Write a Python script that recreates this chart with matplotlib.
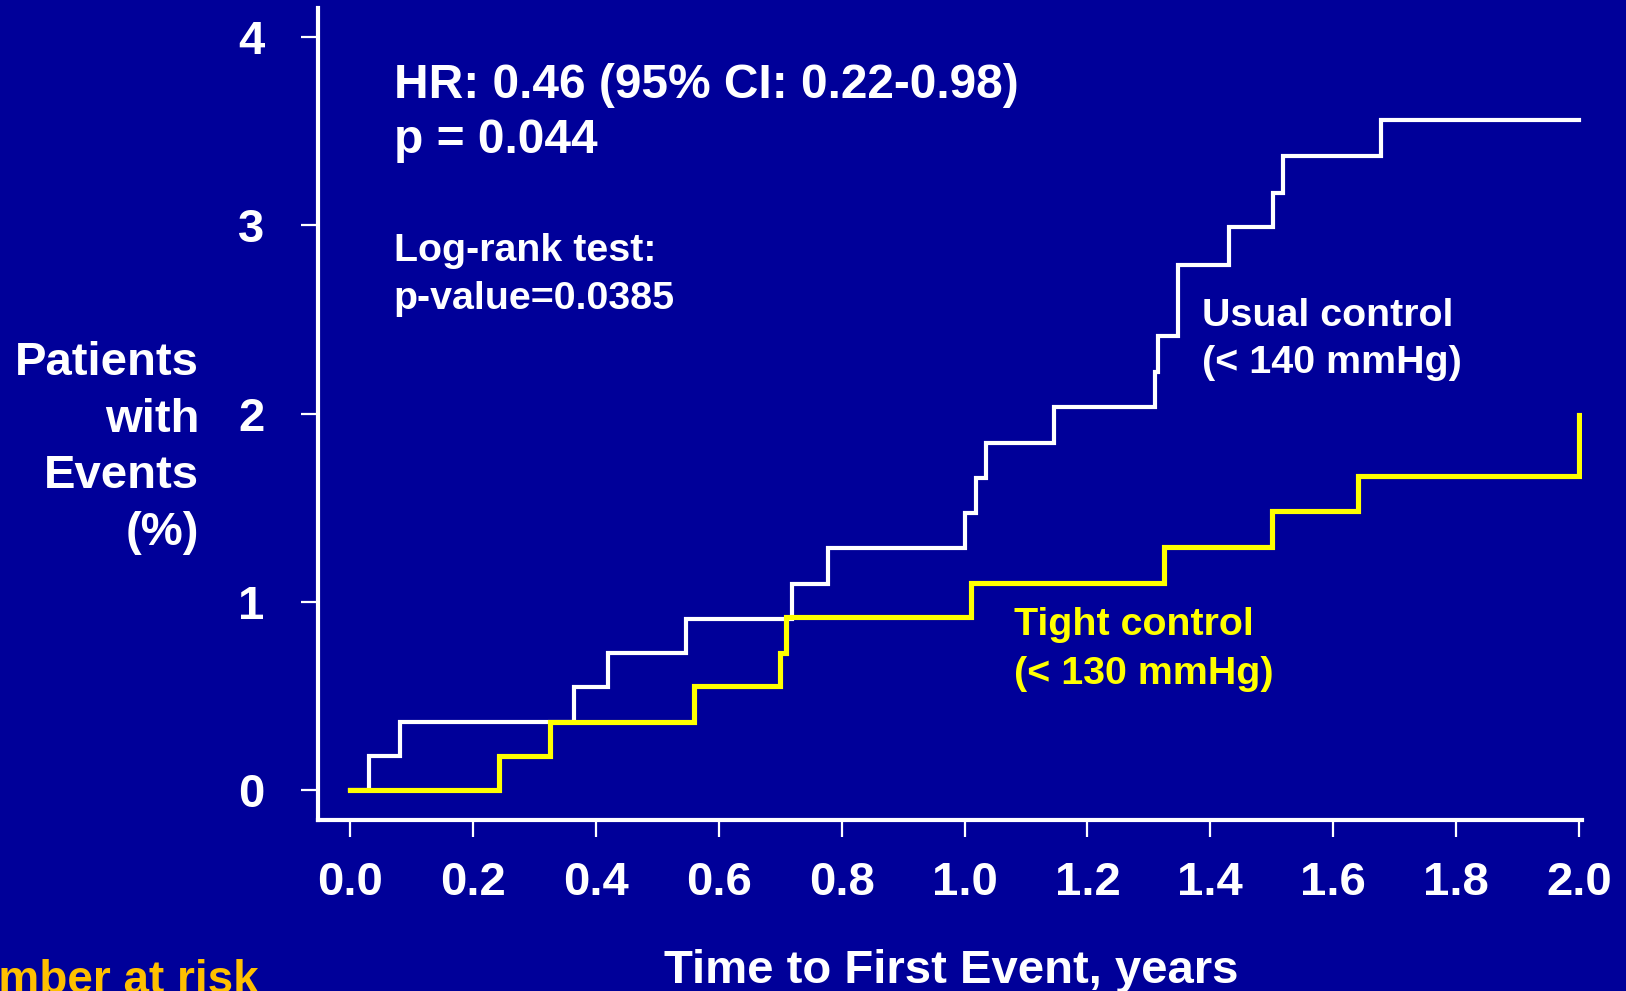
import matplotlib
matplotlib.use("Agg")
import matplotlib.pyplot as plt

# step data: event times (years) and cumulative % with events
usual_t = [0.0, 0.03, 0.081, 0.365, 0.42, 0.547, 0.719, 0.778, 1.001, 1.018, 1.035,
           1.146, 1.31, 1.315, 1.347, 1.43, 1.502, 1.519, 1.678, 2.0]
usual_y = [0.0, 0.18, 0.36, 0.545, 0.727, 0.909, 1.096, 1.284, 1.471, 1.658, 1.846,
           2.033, 2.22, 2.41, 2.79, 2.99, 3.17, 3.37, 3.56, 3.56]

tight_t = [0.0, 0.243, 0.326, 0.559, 0.70, 0.71, 1.011, 1.325, 1.50, 1.64, 2.0, 2.0]
tight_y = [0.0, 0.18, 0.36, 0.55, 0.73, 0.92, 1.10, 1.29, 1.48, 1.67, 1.67, 1.99]

x_ticks = [0.0, 0.2, 0.4, 0.6, 0.8, 1.0, 1.2, 1.4, 1.6, 1.8, 2.0]
y_ticks = [0, 1, 2, 3, 4]

bg = "#000099"
yellow = "#FFFF00"
orange = "#FFC000"

plt.rcParams['font.family'] = ['Liberation Sans', 'DejaVu Sans']
plt.rcParams['font.weight'] = 'bold'

fig = plt.figure(figsize=(16.26, 9.91), dpi=100, facecolor=bg)
ax = fig.add_axes([0.1956, 0.1726, 0.973 - 0.1956, 0.9916 - 0.1726])
ax.set_facecolor(bg)

ax.step(usual_t, usual_y, where='post', color='white', lw=3.0, solid_joinstyle='miter')
ax.step(tight_t, tight_y, where='post', color=yellow, lw=3.7, solid_joinstyle='miter')

ax.set_xlim(-0.0523, 2.005)
ax.set_ylim(-0.16, 4.154)
for s in ['top', 'right']:
    ax.spines[s].set_visible(False)
for s in ['left', 'bottom']:
    ax.spines[s].set_color('white')
    ax.spines[s].set_linewidth(3.0)

ax.set_xticks(x_ticks)
ax.set_xticklabels([f"{v:.1f}" for v in x_ticks])
ax.set_yticks(y_ticks)
ax.tick_params(axis='both', colors='white', length=12.5, width=1.6, labelsize=34)
ax.tick_params(axis='y', pad=26)
ax.tick_params(axis='x', pad=17)
for lab in ax.get_xticklabels() + ax.get_yticklabels():
    lab.set_fontweight('bold')

# annotations
ax.text(0.071, 3.68, "HR: 0.46 (95% CI: 0.22-0.98)", color='white', fontsize=34.5,
        fontweight='bold', va='baseline')
ax.text(0.071, 3.383, "p = 0.044", color='white', fontsize=34.5, fontweight='bold', va='baseline')
ax.text(0.071, 2.81, "Log-rank test:", color='white', fontsize=28.4, fontweight='bold', va='baseline')
ax.text(0.071, 2.556, "p-value=0.0385", color='white', fontsize=28.4, fontweight='bold', va='baseline')

ax.text(1.386, 2.468, "Usual control", color='white', fontsize=28.4, fontweight='bold', va='baseline')
ax.text(1.386, 2.215, "(< 140 mmHg)", color='white', fontsize=28.4, fontweight='bold', va='baseline')
ax.text(1.080, 0.821, "Tight control", color=yellow, fontsize=28.4, fontweight='bold', va='baseline')
ax.text(1.080, 0.562, "(< 130 mmHg)", color=yellow, fontsize=28.4, fontweight='bold', va='baseline')

# axis titles
fig.text(0.1224, 0.548, "Patients\nwith\nEvents\n(%)", color='white', fontsize=34,
         fontweight='bold', ha='right', va='center', multialignment='right', linespacing=1.37)
fig.text(0.585, 0.008, "Time to First Event, years", color='white', fontsize=34,
         fontweight='bold', ha='center', va='baseline')
fig.text(0.159, -0.002, "Number at risk", color=orange, fontsize=33,
         fontweight='bold', ha='right', va='baseline')

fig.savefig("out.png", dpi=100, facecolor=bg)
